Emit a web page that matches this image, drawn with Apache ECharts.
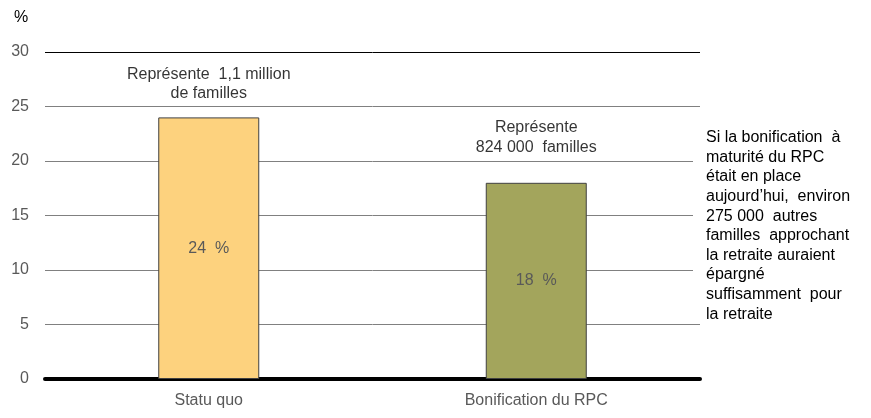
<!DOCTYPE html>
<html>
<head>
<meta charset="utf-8">
<script src="https://cdn.jsdelivr.net/npm/echarts@6/dist/echarts.min.js"></script>
<style>html,body{margin:0;padding:0;background:#fff;}#c{width:871px;height:418px;}</style>
</head>
<body>
<div id="c"></div>
<script>
var categories = ['Statu quo', 'Bonification du RPC'];
var values = [24, 18];
var barColors = ['#FDD27E', '#A3A55C'];
var annotations = ['Représente  1,1 million\nde familles', 'Représente\n824 000  familles'];
var sideNote = 'Si la bonification  à\nmaturité du RPC\nétait en place\naujourd\u2019hui,  environ\n275 000  autres\nfamilles  approchant\nla retraite auraient\népargné\nsuffisamment  pour\nla retraite';
var yTicks = { min: 0, max: 30, interval: 5 };

var font = 'Liberation Sans, Arial, sans-serif';
var annotDistances = [14, 25];

var chart = echarts.init(document.getElementById('c'), null, { renderer: 'canvas' });
chart.setOption({
  animation: false,
  grid: { left: 45, right: 171, top: 52, bottom: 39 },
  xAxis: {
    type: 'category',
    data: categories,
    axisLine: { show: true, lineStyle: { color: '#000', width: 4 } },
    axisTick: { show: false },
    axisLabel: { color: '#595959', fontFamily: font, fontSize: 16, margin: 14 }
  },
  yAxis: {
    type: 'value',
    min: yTicks.min, max: yTicks.max, interval: yTicks.interval,
    axisLine: { show: false },
    axisTick: { show: false },
    axisLabel: { color: '#595959', fontFamily: font, fontSize: 16, margin: 16 },
    splitLine: { lineStyle: { color: ['#808080','#808080','#808080','#808080','#808080','#808080','#000'], width: 1 } }
  },
  series: [
    {
      type: 'bar',
      barWidth: 101,
      data: values.map(function (v, i) {
        return { value: v, itemStyle: { color: barColors[i] } };
      }),
      itemStyle: { borderColor: '#404040', borderWidth: 1 },
      label: {
        show: true, position: 'inside', color: '#595959', fontFamily: font, fontSize: 16,
        formatter: function (p) { return p.value + '  %'; }
      },
      z: 3
    },
    {
      type: 'scatter',
      symbolSize: 0,
      data: values.map(function (v, i) {
        return { value: v, label: { distance: annotDistances[i], lineHeight: i === 0 ? 19.5 : 20 } };
      }),
      label: {
        show: true, position: 'top', color: '#000', fontFamily: font, fontSize: 16, align: 'center',
        formatter: function (p) { return annotations[p.dataIndex]; }
      },
      z: 4
    }
  ],
  graphic: [
    { type: 'text', left: 14, top: 10, style: { text: '%', fill: '#000', font: '16px ' + font } },
    { type: 'rect', left: 693, top: 135, shape: { width: 178, height: 175 }, style: { fill: '#fff' }, z: 10 },
    { type: 'text', left: 706, top: 128, z: 11, style: { text: sideNote, fill: '#000', font: '16px ' + font, lineHeight: 19.6 } }
  ]
});
</script>
</body>
</html>
